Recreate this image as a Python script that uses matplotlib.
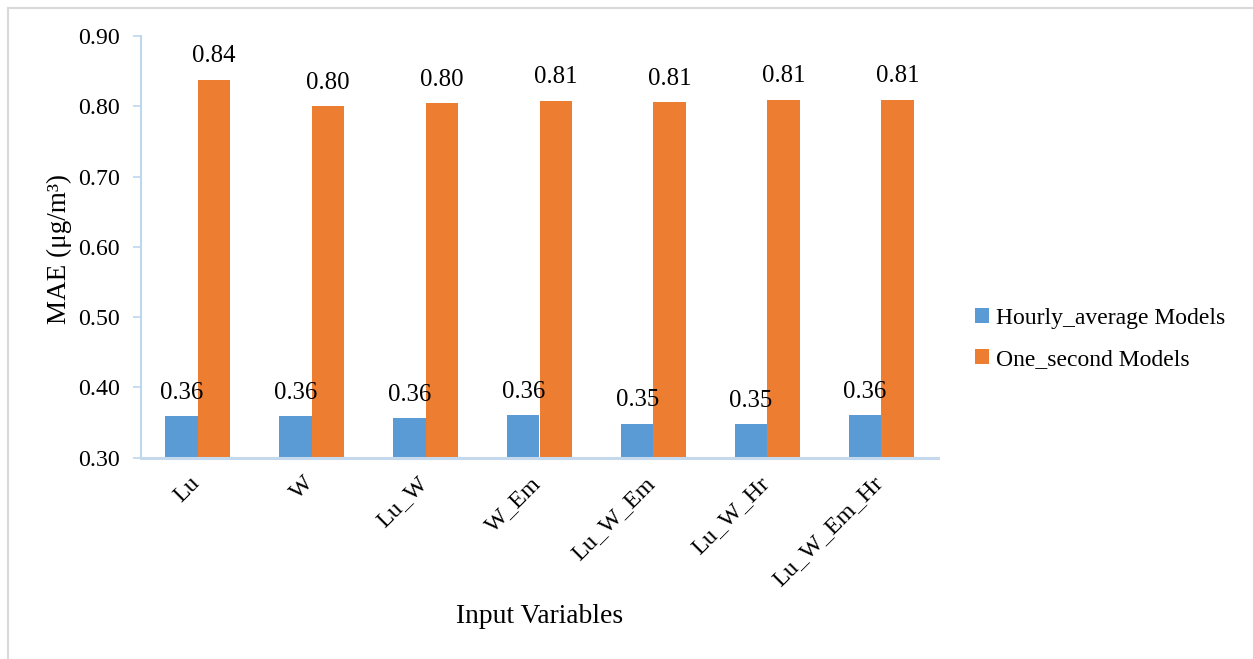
import matplotlib
matplotlib.use("Agg")
import matplotlib.pyplot as plt
import matplotlib.transforms as mtransforms
from matplotlib.lines import Line2D
import numpy as np

plt.rcParams['font.family'] = ['Liberation Serif', 'DejaVu Serif']

categories = ["Lu", "W", "Lu_W", "W_Em", "Lu_W_Em", "Lu_W_Hr", "Lu_W_Em_Hr"]
hourly = [0.359, 0.359, 0.356, 0.360, 0.348, 0.347, 0.360]
one_second = [0.838, 0.800, 0.804, 0.808, 0.806, 0.809, 0.809]
series_names = ["Hourly_average Models", "One_second Models"]
yticks = [0.30, 0.40, 0.50, 0.60, 0.70, 0.80, 0.90]

W, H = 1253, 659
fig = plt.figure(figsize=(W / 100, H / 100), dpi=100)
ax = fig.add_axes([141 / W, 1 - 457.5 / H, (938 - 141) / W, (457.5 - 36) / H])

x = np.arange(len(categories))
bw = 0.285
b1 = ax.bar(x - bw / 2, hourly, bw, color='#5B9BD5', label=series_names[0])
b2 = ax.bar(x + bw / 2, one_second, bw, color='#ED7D31', label=series_names[1])

ax.bar_label(b1, fmt='%.2f', padding=9, fontsize=17.8)
ax.bar_label(b2, fmt='%.2f', padding=9, fontsize=17.8)

ax.set_xlim(-0.5, len(categories) - 0.5)
ax.set_ylim(0.30, 0.90)
ax.set_yticks(yticks)
ax.set_yticklabels([f"{v:.2f}" for v in yticks], fontsize=17.2)
ax.set_xticks(x)
ax.set_xticklabels(categories, fontsize=17.5, rotation=45, ha='right', va='top')
ax.tick_params(axis='x', length=0, pad=11)
ax.tick_params(axis='y', length=6, width=1.2, color='#BDD7EE', pad=9)

offset = mtransforms.ScaledTranslation(6 / 100, 0, fig.dpi_scale_trans)
for lab in ax.get_xticklabels():
    lab.set_transform(lab.get_transform() + offset)

for s in ['top', 'right']:
    ax.spines[s].set_visible(False)
ax.spines['left'].set_color('#BDD7EE')
ax.spines['left'].set_linewidth(1.5)
ax.spines['bottom'].set_color('#C5D9EE')
ax.spines['bottom'].set_linewidth(2.2)

ax.set_ylabel("MAE (μg/m³)", fontsize=19.5)
ax.yaxis.set_label_coords(-0.0866, 0.495)
ax.set_xlabel("Input Variables", fontsize=19.8)
ax.xaxis.set_label_coords(0.5, -0.348)
ax.xaxis.label.set_va('top')

ax.legend(loc='upper left', bbox_to_anchor=(975 / W, 1 - 308 / H), bbox_transform=fig.transFigure,
          frameon=False, fontsize=17.0, handlelength=0.6, handleheight=0.6, handletextpad=0.3,
          labelspacing=0.85, borderaxespad=0, borderpad=0)

fig.add_artist(Line2D([7.5 / W, 7.5 / W], [0, 1 - 8 / H], transform=fig.transFigure, color='#D9D9D9', lw=1.5))
fig.add_artist(Line2D([7.5 / W, 1], [1 - 8 / H, 1 - 8 / H], transform=fig.transFigure, color='#D9D9D9', lw=1.5))

fig.savefig("out.png", dpi=100)
